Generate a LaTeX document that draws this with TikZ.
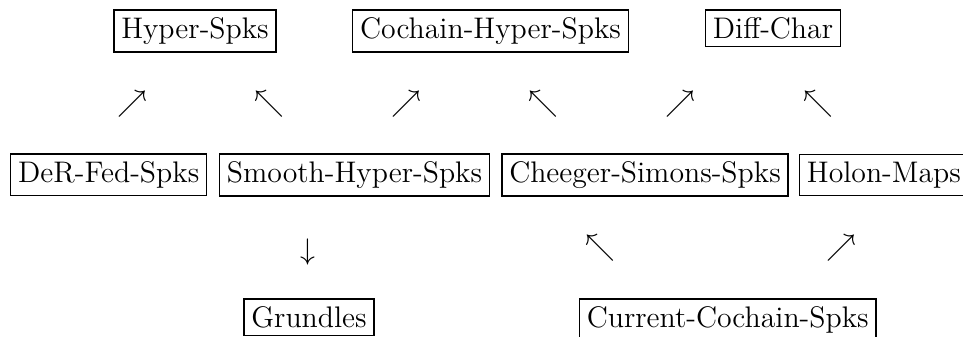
\documentclass[tikz,border=0pt]{standalone}
\usepackage{amssymb}
\begin{document}
\begin{tikzpicture}[x=0.4032pt,y=-0.4032pt,
  every node/.style={font=\fontsize{12}{14.4}\selectfont},
  boxnode/.style={draw,line width=0.6pt,inner sep=3pt,outer sep=0pt,anchor=base},
  glyph/.style={inner sep=0pt,anchor=center}]
\useasboundingbox (0,0) rectangle (963,337);
% row 1
\node[boxnode] (hs) at (195,38.6) {Hyper-Spks};
\node[boxnode] (chs) at (490.5,38.6) {Cochain-Hyper-Spks};
\node[boxnode] (dc) at (773,38.6) {Diff-Char};
% arrows row 1
\node[glyph] (a1) at (132,103.7) {$\nearrow$};
\node[glyph] (a2) at (269,103.7) {$\nwarrow$};
\node[glyph] (a3) at (406,103.7) {$\nearrow$};
\node[glyph] (a4) at (543,103.7) {$\nwarrow$};
\node[glyph] (a5) at (680.5,103.7) {$\nearrow$};
\node[glyph] (a6) at (818,103.7) {$\nwarrow$};
% row 2
\node[boxnode] (drf) at (108.7,182.5) {DeR-Fed-Spks};
\node[boxnode] (shs) at (354.5,182.5) {Smooth-Hyper-Spks};
\node[boxnode] (css) at (645,182.5) {Cheeger-Simons-Spks};
\node[boxnode,anchor=base west] (hm) at (799.5,182.5) {Holon-Maps};
% arrows row 2
\node[glyph] (b1) at (307.5,252.5) {$\downarrow$};
\node[glyph] (b2) at (600,248.5) {$\nwarrow$};
\node[glyph] (b3) at (841.5,248.5) {$\nearrow$};
% row 3
\node[boxnode] (gr) at (309,327.3) {Grundles};
\node[boxnode] (ccs) at (727.7,327.3) {Current-Cochain-Spks};
\end{tikzpicture}
\end{document}
